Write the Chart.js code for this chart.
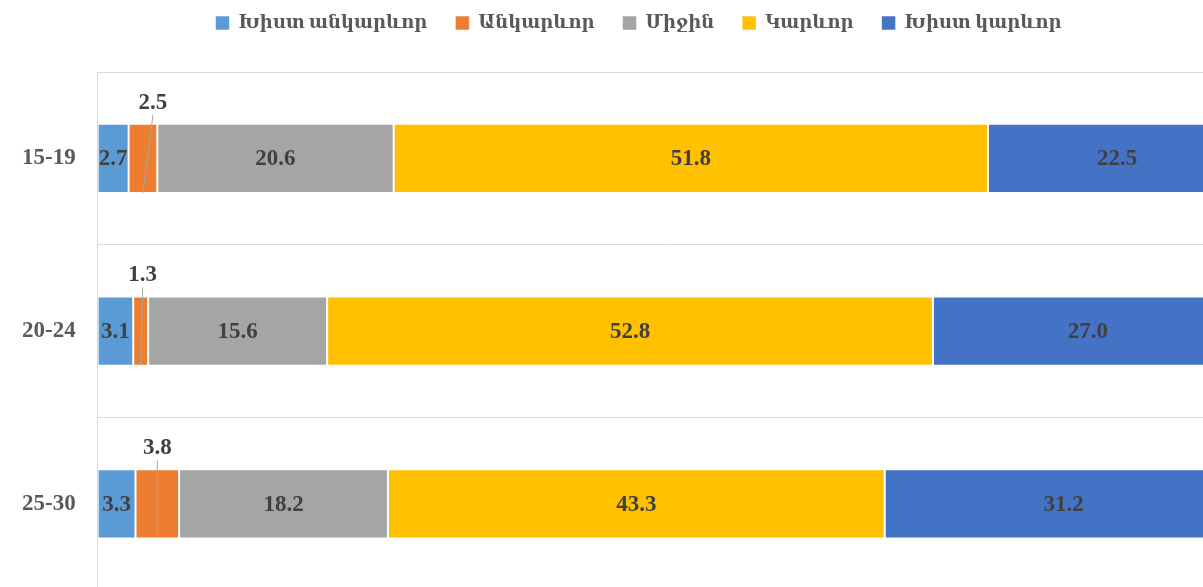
<!DOCTYPE html>
<html>
<head>
<meta charset="utf-8">
<script src="https://cdn.jsdelivr.net/npm/chart.js@4"></script>
<style>
  html, body { margin: 0; padding: 0; background: #fff; overflow: hidden; }
  #frame { width: 1203px; height: 587px; overflow: hidden; position: relative; }
  #chart { position: absolute; left: 0; top: 0; }
</style>
</head>
<body>
<div id="frame"><canvas id="chart" width="1277" height="626"></canvas></div>
<script>
const categories = ['15-19', '20-24', '25-30'];
const seriesNames = ['Խիստ անկարևոր', 'Անկարևոր', 'Միջին', 'Կարևոր', 'Խիստ կարևոր'];
const veryUnimportant = [2.7, 3.1, 3.3];
const unimportant = [2.5, 1.3, 3.8];
const medium = [20.6, 15.6, 18.2];
const important = [51.8, 52.8, 43.3];
const veryImportant = [22.5, 27.0, 31.2];

const colors = ['#5B9BD5', '#ED7D31', '#A5A5A5', '#FFC000', '#4472C4'];
const FONT = "'Liberation Serif', 'DejaVu Serif', serif";

// labels for the thin orange segment sit above the bar with a leader line
const calloutShift = [10, 2, 0];

const valueLabels = {
    id: 'valueLabels',
    beforeInit(chart) {
        // leave room between legend and plot like the original
        const legend = chart.legend;
        if (!legend) return;
        const origFit = legend.fit;
        legend.fit = function () {
            origFit.call(this);
            this.height = Math.max(this.height, 86);
        };
    },
    afterLayout(chart) {
        // legend is centred on the whole picture, not on the plot
        if (chart.legend) {
            chart.legend.left += 16;
            chart.legend.right += 16;
        }
    },
    afterDatasetsDraw(chart) {
        const ctx = chart.ctx;
        ctx.save();
        ctx.font = 'bold 23px ' + FONT;
        ctx.fillStyle = '#404040';
        ctx.textAlign = 'center';
        ctx.textBaseline = 'middle';
        chart.data.datasets.forEach((ds, di) => {
            const meta = chart.getDatasetMeta(di);
            meta.data.forEach((bar, i) => {
                const txt = ds.data[i].toFixed(1);
                const cx = (bar.base + bar.x) / 2;
                if (di === 1) {
                    const top = bar.y - bar.height / 2;
                    const bottom = bar.y + bar.height / 2;
                    const lx = cx + calloutShift[i];
                    const ly = top - 21;
                    ctx.strokeStyle = '#A6A6A6';
                    ctx.lineWidth = 1;
                    ctx.beginPath();
                    ctx.moveTo(lx, ly + 12);
                    ctx.lineTo(cx, bottom);
                    ctx.stroke();
                    ctx.fillText(txt, lx, ly);
                } else {
                    ctx.fillText(txt, cx, bar.y + 1);
                }
            });
        });
        ctx.restore();
    }
};

const datasets = [veryUnimportant, unimportant, medium, important, veryImportant].map((vals, k) => ({
    label: seriesNames[k],
    data: vals,
    backgroundColor: colors[k],
    borderColor: 'rgba(255,255,255,0.55)',
    borderWidth: 1,
    borderSkipped: false,
    barPercentage: 0.4,
    categoryPercentage: 1
}));

new Chart(document.getElementById('chart'), {
    type: 'bar',
    data: { labels: categories, datasets: datasets },
    options: {
        indexAxis: 'y',
        responsive: false,
        animation: false,
        layout: { padding: { left: 0, right: 32, top: -14, bottom: 0 } },
        scales: {
            x: {
                display: false,
                stacked: true,
                min: 0,
                max: 100
            },
            y: {
                stacked: true,
                grid: { offset: true, color: '#D9D9D9', drawTicks: false },
                border: { color: '#D9D9D9' },
                ticks: {
                    padding: 22,
                    color: '#595959',
                    font: { family: FONT, size: 23, weight: 'bold' }
                }
            }
        },
        plugins: {
            legend: {
                position: 'top',
                labels: {
                    boxWidth: 14,
                    boxHeight: 14,
                    padding: 28,
                    color: '#595959',
                    font: { family: FONT, size: 18, weight: 'bold' }
                }
            },
            tooltip: { enabled: false }
        }
    },
    plugins: [valueLabels]
});
</script>
</body>
</html>
